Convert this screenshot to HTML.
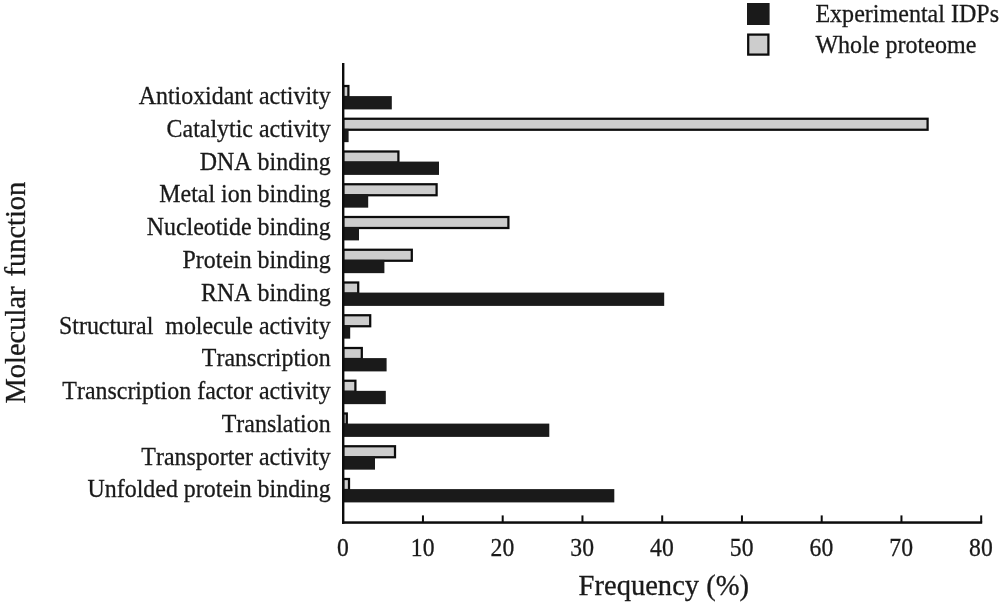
<!DOCTYPE html>
<html lang="en"><head><meta charset="utf-8"><title>Molecular function frequency</title>
<style>html,body{margin:0;padding:0;background:#fff}body{width:1000px;height:604px;overflow:hidden}svg{display:block;filter:blur(0.45px)}text{font-family:"Liberation Serif",serif;fill:#1a1a1a;stroke:#1a1a1a;stroke-width:.3px;font-kerning:none}.s{font-size:25.2px}.l{font-size:28.5px}.d{font-size:25.5px}</style></head><body>
<svg width="1000" height="604" viewBox="0 0 1000 604">
<rect width="1000" height="604" fill="#fff"/>
<rect x="747" y="3" width="22.6" height="22" fill="#1a1a1a"/>
<rect x="748.2" y="34.6" width="20.2" height="20" fill="#cdcdcd" stroke="#0c0c0c" stroke-width="2.25"/>
<text class="s" transform="translate(815.4 21.9) scale(0.9547 1)">Experimental IDPs</text>
<text class="s" transform="translate(815.4 52.6) scale(0.9547 1)">Whole proteome</text>
<rect x="343.2" y="86.00" width="5.2" height="11" fill="#cdcdcd" stroke="#0c0c0c" stroke-width="2.25"/>
<rect x="343.2" y="96.10" width="48.6" height="13.3" fill="#1a1a1a"/>
<rect x="343.2" y="118.75" width="584.4" height="11" fill="#cdcdcd" stroke="#0c0c0c" stroke-width="2.25"/>
<rect x="343.2" y="128.85" width="5.4" height="13.3" fill="#1a1a1a"/>
<rect x="343.2" y="151.50" width="55.2" height="11" fill="#cdcdcd" stroke="#0c0c0c" stroke-width="2.25"/>
<rect x="343.2" y="161.60" width="95.8" height="13.3" fill="#1a1a1a"/>
<rect x="343.2" y="184.25" width="93.4" height="11" fill="#cdcdcd" stroke="#0c0c0c" stroke-width="2.25"/>
<rect x="343.2" y="194.35" width="25.0" height="13.3" fill="#1a1a1a"/>
<rect x="343.2" y="217.00" width="165.2" height="11" fill="#cdcdcd" stroke="#0c0c0c" stroke-width="2.25"/>
<rect x="343.2" y="227.10" width="15.8" height="13.3" fill="#1a1a1a"/>
<rect x="343.2" y="249.75" width="68.6" height="11" fill="#cdcdcd" stroke="#0c0c0c" stroke-width="2.25"/>
<rect x="343.2" y="259.85" width="41.2" height="13.3" fill="#1a1a1a"/>
<rect x="343.2" y="282.50" width="15.0" height="11" fill="#cdcdcd" stroke="#0c0c0c" stroke-width="2.25"/>
<rect x="343.2" y="292.60" width="321.0" height="13.3" fill="#1a1a1a"/>
<rect x="343.2" y="315.25" width="27.0" height="11" fill="#cdcdcd" stroke="#0c0c0c" stroke-width="2.25"/>
<rect x="343.2" y="325.35" width="7.0" height="13.3" fill="#1a1a1a"/>
<rect x="343.2" y="348.00" width="18.6" height="11" fill="#cdcdcd" stroke="#0c0c0c" stroke-width="2.25"/>
<rect x="343.2" y="358.10" width="43.4" height="13.3" fill="#1a1a1a"/>
<rect x="343.2" y="380.75" width="12.2" height="11" fill="#cdcdcd" stroke="#0c0c0c" stroke-width="2.25"/>
<rect x="343.2" y="390.85" width="42.6" height="13.3" fill="#1a1a1a"/>
<rect x="343.2" y="413.50" width="3.6" height="11" fill="#cdcdcd" stroke="#0c0c0c" stroke-width="2.25"/>
<rect x="343.2" y="423.60" width="206.1" height="13.3" fill="#1a1a1a"/>
<rect x="343.2" y="446.25" width="51.8" height="11" fill="#cdcdcd" stroke="#0c0c0c" stroke-width="2.25"/>
<rect x="343.2" y="456.35" width="31.8" height="13.3" fill="#1a1a1a"/>
<rect x="343.2" y="479.00" width="5.8" height="11" fill="#cdcdcd" stroke="#0c0c0c" stroke-width="2.25"/>
<rect x="343.2" y="489.10" width="271.1" height="13.3" fill="#1a1a1a"/>
<rect x="342" y="63" width="2.4" height="460.8" fill="#0c0c0c"/>
<rect x="342" y="521.3" width="640.2" height="2.5" fill="#0c0c0c"/>
<rect x="421.95" y="515.4" width="2" height="7" fill="#0c0c0c"/>
<rect x="501.70" y="515.4" width="2" height="7" fill="#0c0c0c"/>
<rect x="581.45" y="515.4" width="2" height="7" fill="#0c0c0c"/>
<rect x="661.20" y="515.4" width="2" height="7" fill="#0c0c0c"/>
<rect x="740.95" y="515.4" width="2" height="7" fill="#0c0c0c"/>
<rect x="820.70" y="515.4" width="2" height="7" fill="#0c0c0c"/>
<rect x="900.45" y="515.4" width="2" height="7" fill="#0c0c0c"/>
<rect x="980.20" y="515.4" width="2" height="7" fill="#0c0c0c"/>
<text class="d" text-anchor="middle" transform="translate(342.90 555.9) scale(0.927 1)">0</text>
<text class="d" text-anchor="middle" transform="translate(422.65 555.9) scale(0.927 1)">10</text>
<text class="d" text-anchor="middle" transform="translate(502.40 555.9) scale(0.927 1)">20</text>
<text class="d" text-anchor="middle" transform="translate(582.15 555.9) scale(0.927 1)">30</text>
<text class="d" text-anchor="middle" transform="translate(661.90 555.9) scale(0.927 1)">40</text>
<text class="d" text-anchor="middle" transform="translate(741.65 555.9) scale(0.927 1)">50</text>
<text class="d" text-anchor="middle" transform="translate(821.40 555.9) scale(0.927 1)">60</text>
<text class="d" text-anchor="middle" transform="translate(901.15 555.9) scale(0.927 1)">70</text>
<text class="d" text-anchor="middle" transform="translate(980.90 555.9) scale(0.927 1)">80</text>
<text class="s" text-anchor="end" transform="translate(330.7 104.10) scale(0.95 1)">Antioxidant activity</text>
<text class="s" text-anchor="end" transform="translate(330.7 136.88) scale(0.95 1)">Catalytic activity</text>
<text class="s" text-anchor="end" transform="translate(330.7 169.66) scale(0.95 1)">DNA binding</text>
<text class="s" text-anchor="end" transform="translate(330.7 202.44) scale(0.95 1)">Metal ion binding</text>
<text class="s" text-anchor="end" transform="translate(330.7 235.22) scale(0.95 1)">Nucleotide binding</text>
<text class="s" text-anchor="end" transform="translate(330.7 268.00) scale(0.95 1)">Protein binding</text>
<text class="s" text-anchor="end" transform="translate(330.7 300.78) scale(0.95 1)">RNA binding</text>
<text class="s" text-anchor="end" transform="translate(330.7 333.56) scale(0.95 1)">Structural  molecule activity</text>
<text class="s" text-anchor="end" transform="translate(330.7 366.34) scale(0.95 1)">Transcription</text>
<text class="s" text-anchor="end" transform="translate(330.7 399.12) scale(0.95 1)">Transcription factor activity</text>
<text class="s" text-anchor="end" transform="translate(330.7 431.90) scale(0.95 1)">Translation</text>
<text class="s" text-anchor="end" transform="translate(330.7 464.68) scale(0.95 1)">Transporter activity</text>
<text class="s" text-anchor="end" transform="translate(330.7 497.46) scale(0.95 1)">Unfolded protein binding</text>
<text class="l" text-anchor="middle" transform="translate(663.8 595.3) scale(1.002 1)">Frequency (%)</text>
<text class="l" text-anchor="middle" style="word-spacing:2.7px" transform="translate(24.5 292.6) rotate(-90) scale(1.0 1)">Molecular function</text>
</svg></body></html>
